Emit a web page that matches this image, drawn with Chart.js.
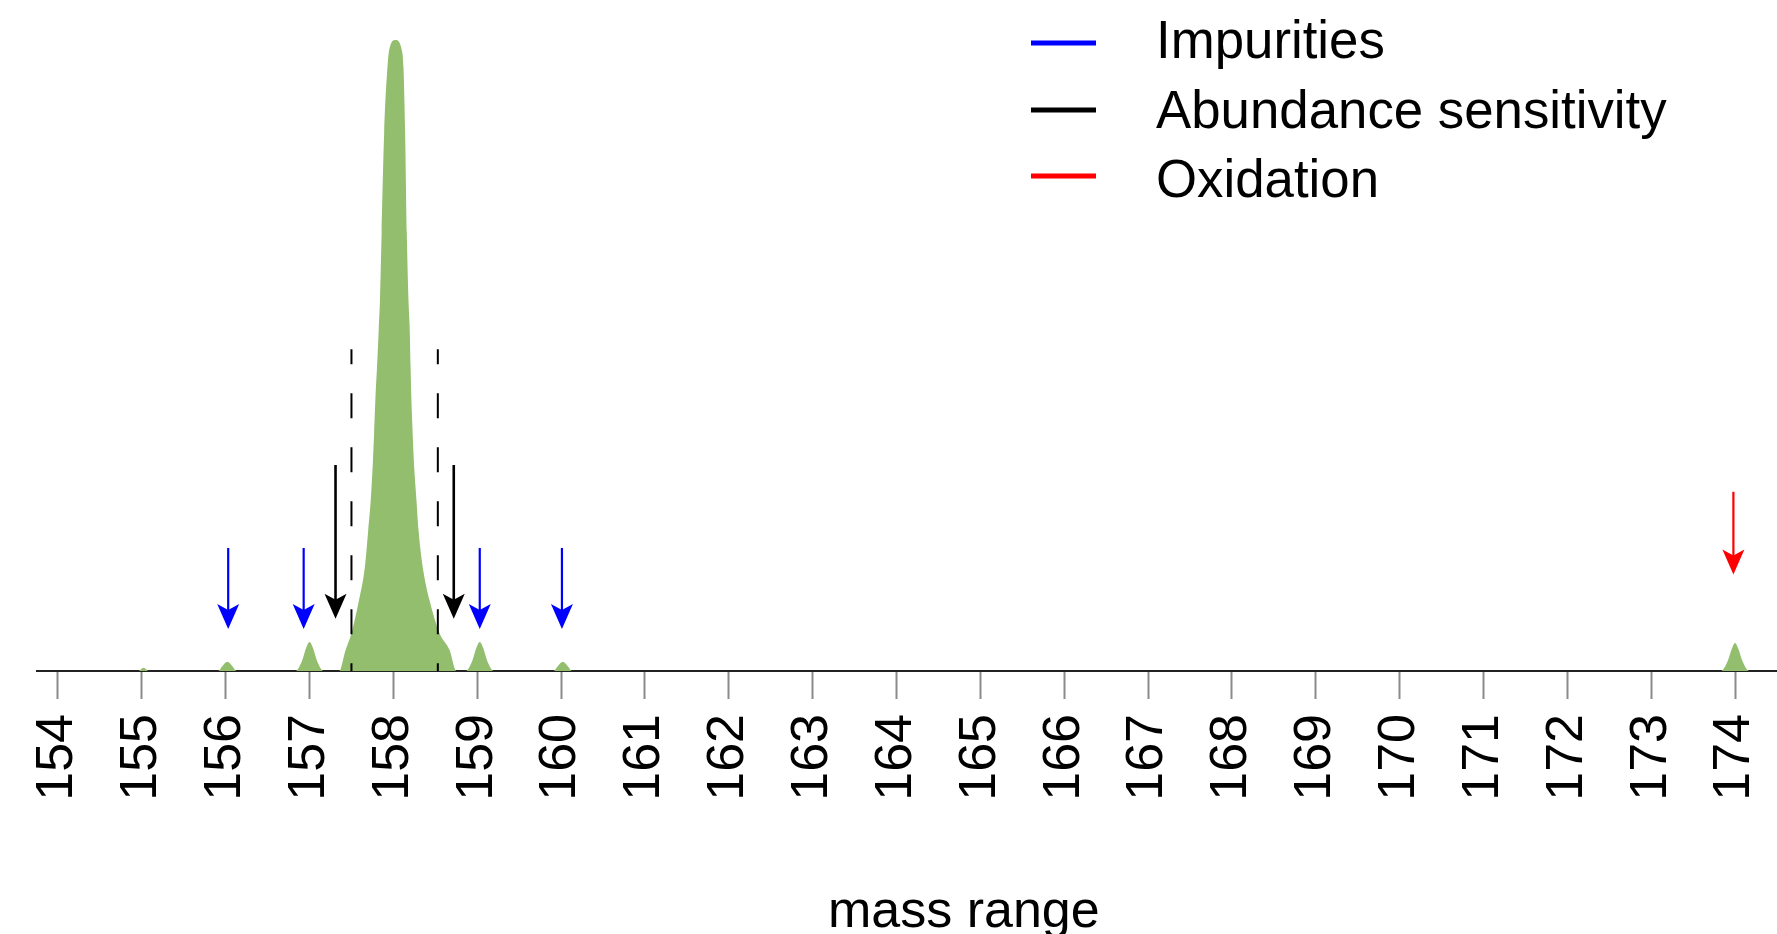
<!DOCTYPE html>
<html>
<head>
<meta charset="utf-8">
<script src="https://cdn.jsdelivr.net/npm/chart.js@4"></script>
<style>
  html, body { margin: 0; padding: 0; background: #fff; }
  #wrap { width: 1777px; height: 934px; }
</style>
</head>
<body>
<div id="wrap"><canvas id="massChart"></canvas></div>
<script>
// spectrum profile (mass, relative intensity)
const massX = [
  153.75,
  154.96, 155.02, 155.08,
  155.91, 155.96, 156.02, 156.08, 156.13,
  156.83, 156.91, 156.96, 157.00, 157.04, 157.09, 157.17,
  157.353, 157.43, 157.50, 157.59, 157.66, 157.70, 157.73, 157.755, 157.77, 157.785,
  157.805, 157.825, 157.84, 157.86, 157.89, 157.93, 157.95, 158.025, 158.10, 158.12,
  158.14, 158.16, 158.18, 158.195, 158.205, 158.215, 158.23, 158.245, 158.275, 158.30,
  158.35, 158.43, 158.55, 158.67, 158.752,
  158.86, 158.94, 158.99, 159.03, 159.07, 159.12, 159.20,
  159.91, 159.96, 160.02, 160.08, 160.13,
  173.83, 173.91, 173.96, 174.00, 174.04, 174.09, 174.17,
  174.5
];
const intensity = [
  0,
  0, 0.5, 0,
  0, 0.75, 1.45, 0.75, 0,
  0, 1.6, 3.7, 4.6, 3.7, 1.6, 0,
  0, 3.33, 6.0, 11.25, 16.5, 22.3, 27.1, 33.0, 37.6, 42.9,
  48.2, 54.0, 58.8, 69.4, 85.3, 95.8, 98.4, 100, 98.4, 95.8,
  85.3, 69.4, 58.8, 54.0, 48.2, 42.9, 37.6, 33.0, 27.1, 22.3,
  16.5, 11.25, 6.0, 3.33, 0,
  0, 1.6, 3.7, 4.6, 3.7, 1.6, 0,
  0, 0.75, 1.45, 0.75, 0,
  0, 1.5, 3.5, 4.45, 3.5, 1.5, 0,
  0
];
const tickMasses = [154, 155, 156, 157, 158, 159, 160, 161, 162, 163, 164, 165, 166, 167, 168, 169, 170, 171, 172, 173, 174];

// arrow markers: masses, arrow top and tip intensity
const impurityMass = [156.03, 156.93, 159.03, 160.01];
const impurityRange = [19.5, 6.65];
const abundanceMass = [157.31, 158.72];
const abundanceRange = [32.65, 8.3];
const oxidationMass = [173.98];
const oxidationRange = [28.4, 15.3];

// dashed window around the main peak
const windowMass = [157.5, 158.53];
const windowTop = 51;

const legendLabels = ['Impurities', 'Abundance sensitivity', 'Oxidation'];
const legendColors = ['#0000ff', '#000000', '#ff0000'];
const axisTitle = 'mass range';

const FONT = '"Liberation Sans", Arial, sans-serif';

const arrowGroups = [
  { mass: impurityMass, range: impurityRange, color: legendColors[0], width: 2.2 },
  { mass: abundanceMass, range: abundanceRange, color: legendColors[1], width: 2.6 },
  { mass: oxidationMass, range: oxidationRange, color: legendColors[2], width: 2.2 }
];

function drawArrow(ctx, x, y0, y1, color, width) {
  ctx.save();
  ctx.strokeStyle = color;
  ctx.fillStyle = color;
  ctx.lineWidth = width;
  ctx.beginPath();
  ctx.moveTo(x, y0);
  ctx.lineTo(x, y1 - 10);
  ctx.stroke();
  ctx.beginPath();
  ctx.moveTo(x, y1);
  ctx.lineTo(x - 11, y1 - 25);
  ctx.lineTo(x, y1 - 19);
  ctx.lineTo(x + 11, y1 - 25);
  ctx.closePath();
  ctx.fill();
  ctx.restore();
}

const markers = {
  id: 'markers',
  afterDatasetsDraw(chart) {
    const ctx = chart.ctx;
    const xs = chart.scales.x;
    const ys = chart.scales.y;

    ctx.save();
    ctx.strokeStyle = '#000';
    ctx.lineWidth = 2;
    ctx.setLineDash([25, 29]);
    ctx.lineDashOffset = 10;
    windowMass.forEach(m => {
      const px = xs.getPixelForValue(m);
      ctx.beginPath();
      ctx.moveTo(px, ys.getPixelForValue(windowTop));
      ctx.lineTo(px, ys.getPixelForValue(0));
      ctx.stroke();
    });
    ctx.restore();

    arrowGroups.forEach(g => {
      g.mass.forEach(m => {
        drawArrow(ctx, xs.getPixelForValue(m), ys.getPixelForValue(g.range[0]),
          ys.getPixelForValue(g.range[1]), g.color, g.width);
      });
    });
  },
  afterDraw(chart) {
    const ctx = chart.ctx;
    const lineY = [43, 110, 176];
    const textY = [58, 128, 197];
    ctx.save();
    // legend
    legendLabels.forEach((lab, i) => {
      ctx.strokeStyle = legendColors[i];
      ctx.lineWidth = 5;
      ctx.beginPath();
      ctx.moveTo(1031, lineY[i]);
      ctx.lineTo(1096, lineY[i]);
      ctx.stroke();
      ctx.fillStyle = '#000';
      ctx.font = '52.8px ' + FONT;
      ctx.textBaseline = 'alphabetic';
      ctx.textAlign = 'left';
      ctx.fillText(lab, 1156, textY[i]);
    });
    // axis title
    ctx.fillStyle = '#000';
    ctx.font = '52px ' + FONT;
    ctx.textAlign = 'left';
    ctx.fillText(axisTitle, 828, 927);
    ctx.restore();
  }
};

const config = {
  type: 'line',
  data: {
    datasets: [
      {
        label: 'spectrum',
        data: massX.map((x, i) => ({ x: x, y: intensity[i] })),
        backgroundColor: '#92be6e',
        borderWidth: 0,
        pointRadius: 0,
        fill: 'origin',
        cubicInterpolationMode: 'monotone'
      }
    ]
  },
  options: {
    responsive: true,
    maintainAspectRatio: false,
    animation: false,
    layout: { padding: { top: 40, left: 37, right: 0, bottom: 0 } },
    plugins: {
      legend: { display: false },
      tooltip: { enabled: false }
    },
    scales: {
      x: {
        type: 'linear',
        min: 153.75,
        max: 174.5,
        afterBuildTicks: s => { s.ticks = tickMasses.map(v => ({ value: v })); },
        afterFit: s => { s.height = 263; s.paddingLeft = 0; s.paddingRight = 0; },
        border: { display: true, color: '#222', width: 2 },
        grid: { drawOnChartArea: false, drawTicks: true, tickLength: 28, tickColor: '#8a8a8a', tickWidth: 2 },
        ticks: {
          autoSkip: false,
          minRotation: 90,
          maxRotation: 90,
          padding: 15,
          color: '#000',
          font: { family: FONT, size: 52 },
          callback: v => String(v)
        }
      },
      y: {
        display: false,
        min: 0,
        max: 100
      }
    }
  },
  plugins: [markers]
};

var myChart = new Chart(document.getElementById('massChart'), config);
</script>
</body>
</html>
